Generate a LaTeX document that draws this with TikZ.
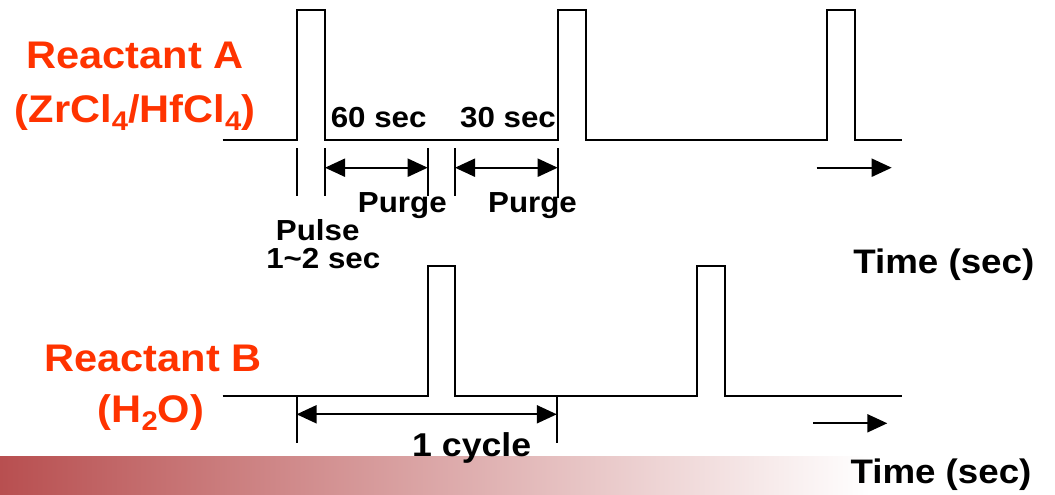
\documentclass[tikz,border=0pt]{standalone}
\usepackage{fontspec}
\setmainfont{Liberation Sans}[FakeStretch=1.08]
\usetikzlibrary{arrows.meta}
\definecolor{rx}{RGB}{255,51,0}
\definecolor{barred}{RGB}{184,79,80}
\newcommand\mysub[1]{\raisebox{-8pt}{\fontsize{27}{27}\selectfont #1}}
\tikzset{
  wave/.style={line width=2pt, line join=miter},
  tickline/.style={line width=2pt},
  dimarrow/.style={line width=2pt, {Triangle[length=20pt,width=18pt]}-{Triangle[length=20pt,width=18pt]}},
  fwdarrow/.style={line width=2pt, -{Triangle[length=20pt,width=18pt]}},
  lbl/.style={anchor=base, inner sep=0pt, font=\bfseries\fontsize{29}{30}\selectfont},
  biglbl/.style={anchor=base, inner sep=0pt, text=rx, font=\bfseries\fontsize{38.5}{40}\selectfont},
  axislbl/.style={anchor=base, inner sep=0pt, font=\bfseries\fontsize{34}{36}\selectfont},
}
\begin{document}
\begin{tikzpicture}[x=1pt, y=-1pt]
\useasboundingbox (0,0) rectangle (1055,495);
% gradient bar
\shade[left color=barred, right color=white] (0,456) rectangle (870,495);

% Reactant A waveform
\draw[wave] (222.7,140) -- (296.7,140) -- (296.7,10) -- (325,10) -- (325,140)
  -- (557.7,140) -- (557.7,10) -- (585.7,10) -- (585.7,140)
  -- (826.7,140) -- (826.7,10) -- (855,10) -- (855,140) -- (901.7,140);

% Reactant B waveform
\draw[wave] (222.7,395.7) -- (427.5,395.7) -- (427.5,266) -- (455.4,266) -- (455.4,395.7)
  -- (696.7,395.7) -- (696.7,266) -- (725,266) -- (725,395.7) -- (901.7,395.7);

% top ticks
\coordinate (t1a) at (296.7,148); \coordinate (t1b) at (296.7,196);
\coordinate (t2a) at (325,148);   \coordinate (t2b) at (325,196);
\coordinate (t3a) at (427.7,148); \coordinate (t3b) at (427.7,196);
\coordinate (t4a) at (455,148);   \coordinate (t4b) at (455,196);
\coordinate (t5a) at (557.7,148); \coordinate (t5b) at (557.7,198);
\foreach \i in {1,...,5} \draw[tickline] (t\i a) -- (t\i b);
\coordinate (p1l) at (325,167.7);   \coordinate (p1r) at (427.7,167.7);
\coordinate (p2l) at (455,167.7);   \coordinate (p2r) at (557.7,167.7);
\draw[dimarrow] (p1l) -- (p1r);
\draw[dimarrow] (p2l) -- (p2r);
\coordinate (ta0) at (816.7,167.7); \coordinate (ta1) at (891.7,167.7);
\draw[fwdarrow] (ta0) -- (ta1);

% bottom ticks
\coordinate (b1a) at (296.6,395.7); \coordinate (b1b) at (296.6,443.3);
\coordinate (b2a) at (556.8,395.7); \coordinate (b2b) at (556.8,443.3);
\draw[tickline] (b1a) -- (b1b);
\draw[tickline] (b2a) -- (b2b);
\coordinate (cl) at (296.6,414.3); \coordinate (cr) at (556.8,414.3);
\draw[dimarrow] (cl) -- (cr);
\coordinate (tb0) at (813.3,423.3); \coordinate (tb1) at (887.3,423.3);
\draw[fwdarrow] (tb0) -- (tb1);

% labels
\node[biglbl] (ra) at (135,69) {Reactant A};
\node[biglbl] (raf) at (135,122) {(ZrCl\mysub{4}/HfCl\mysub{4})};
\node[biglbl] (rb) at (153,371.7) {Reactant B};
\node[biglbl] (rbf) at (151,422) {(H\mysub{2}O)};

\node[lbl] (s60) at (378.7,127.7) {60 sec};
\node[lbl] (s30) at (508,127.7) {30 sec};
\node[lbl] (pg1) at (402.3,212.7) {Purge};
\node[lbl] (pg2) at (532.5,212.7) {Purge};
\node[lbl] (pls) at (317.7,240.7) {Pulse};
\node[lbl] (pld) at (323.3,268) {1\textasciitilde 2 sec};

\node[axislbl] (ttop) at (943.8,273.3) {Time (sec)};
\node[axislbl] (tbot) at (941,483.3) {Time (sec)};
\node[axislbl, font=\bfseries\fontsize{33}{35}\selectfont] (cyc) at (471.7,456.7) {1 cycle};
\end{tikzpicture}
\end{document}
